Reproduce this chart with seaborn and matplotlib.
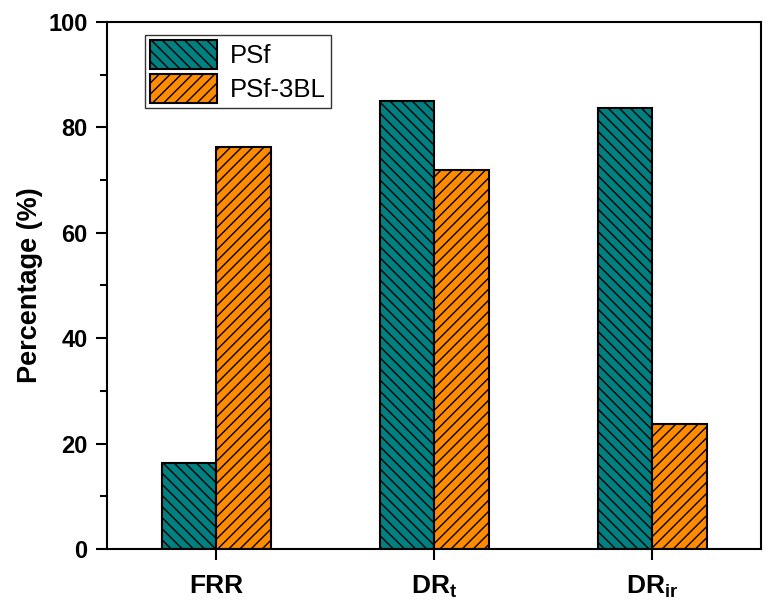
import pandas as pd
import matplotlib
matplotlib.use("Agg")
import matplotlib.pyplot as plt
import seaborn as sns
from matplotlib.ticker import MultipleLocator

# Chart values
categories = ["FRR", "DRt", "DRir"]
tick_labels = ["FRR", r"DR$_{\mathbf{t}}$", r"DR$_{\mathbf{ir}}$"]
psf = [16.3, 85.0, 83.7]
psf_3bl = [76.3, 71.9, 23.7]

df = pd.DataFrame({
    "Category": categories * 2,
    "Percentage": psf + psf_3bl,
    "Membrane": ["PSf"] * 3 + ["PSf-3BL"] * 3,
})

sns.set_style("ticks")
plt.rcParams["font.family"] = ["Liberation Sans", "DejaVu Sans"]
plt.rcParams["mathtext.fontset"] = "custom"
plt.rcParams["mathtext.rm"] = "Liberation Sans"
plt.rcParams["mathtext.bf"] = "Liberation Sans:bold"
plt.rcParams["mathtext.it"] = "Liberation Sans:italic"
plt.rcParams["hatch.linewidth"] = 1.0
plt.rcParams["hatch.color"] = "black"
plt.rcParams["text.color"] = "black"
plt.rcParams["axes.labelcolor"] = "black"
plt.rcParams["xtick.color"] = "black"
plt.rcParams["ytick.color"] = "black"
plt.rcParams["axes.edgecolor"] = "black"

fig = plt.figure(figsize=(7.76, 6.03), dpi=100)
ax = fig.add_axes([0.138, 0.0896, 0.843, 0.874])

palette = {"PSf": "#008080", "PSf-3BL": "#FF8C00"}
sns.barplot(data=df, x="Category", y="Percentage", hue="Membrane",
            palette=palette, width=0.5, saturation=1,
            edgecolor="black", linewidth=1.5, ax=ax)

# hatch patterns per series
hatches = {"PSf": "\\\\\\", "PSf-3BL": "///"}
for cont, name in zip(ax.containers, ["PSf", "PSf-3BL"]):
    for bar in cont:
        bar.set_hatch(hatches[name])

ax.set_xlim(-0.5, 2.5)
ax.set_ylim(0, 100)
ax.yaxis.set_major_locator(MultipleLocator(20))
ax.yaxis.set_minor_locator(MultipleLocator(10))
ax.set_xticks(range(3))
ax.set_xticklabels(tick_labels)

for s in ax.spines.values():
    s.set_linewidth(1.5)
    s.set_visible(True)
ax.tick_params(axis="both", which="major", direction="out", length=8, width=1.5,
               labelsize=17, pad=6)
ax.tick_params(axis="y", which="minor", direction="out", length=5, width=1.5)
ax.tick_params(axis="x", labelsize=19, pad=10)
for lab in ax.get_xticklabels() + ax.get_yticklabels():
    lab.set_fontweight("bold")

ax.set_xlabel("")
ax.set_ylabel("Percentage (%)", fontsize=19.5, fontweight="bold", labelpad=4)

leg = ax.legend(loc="upper left", bbox_to_anchor=(0.05, 0.985), fontsize=18.5,
                frameon=True, fancybox=False, edgecolor="black",
                handlelength=2.6, handleheight=1.35, borderpad=0.2,
                labelspacing=0.2, handletextpad=0.5, borderaxespad=0.2)
leg.get_frame().set_linewidth(1.0)
for patch, name in zip(leg.get_patches(), ["PSf", "PSf-3BL"]):
    patch.set_hatch(hatches[name])
    patch.set_edgecolor("black")
    patch.set_linewidth(1.5)

fig.savefig("out.png", dpi=100)
